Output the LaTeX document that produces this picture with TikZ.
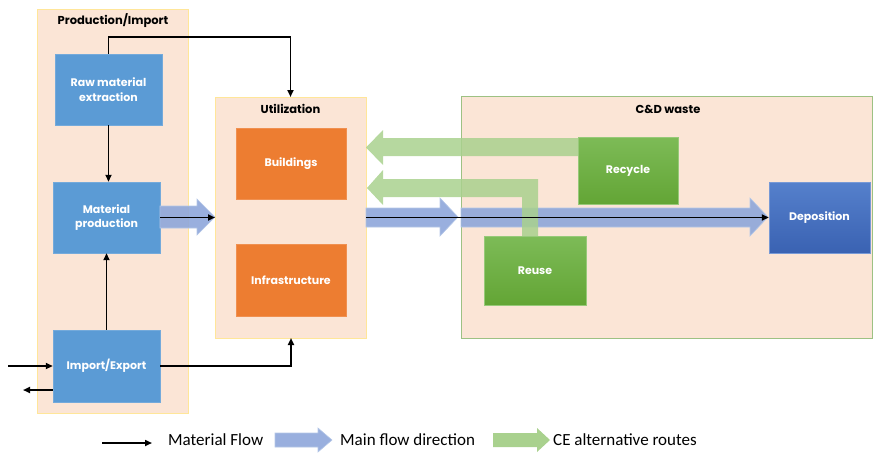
\documentclass[tikz,border=0pt]{standalone}
\usepackage{fontspec}
\setmainfont{Carlito}
\newfontfamily\gothic{Poppins}
\usetikzlibrary{arrows.meta,calc}
\definecolor{panelfill}{HTML}{FBE5D6}
\definecolor{panelgold}{HTML}{FFE699}
\definecolor{panelgreen}{HTML}{9DC183}
\definecolor{boxblue}{HTML}{5B9BD5}
\definecolor{boxorange}{HTML}{ED7D31}
\definecolor{greentop}{HTML}{7DBB57}
\definecolor{greenbot}{HTML}{63A535}
\definecolor{deptop}{HTML}{5580CC}
\definecolor{depbot}{HTML}{3A62B2}
\definecolor{fatblue}{HTML}{8EA6DA}
\definecolor{fatblueedge}{HTML}{B4C7E7}
\definecolor{fatgreen}{HTML}{A9D18E}
\begin{document}
\begin{tikzpicture}[x=1pt,y=-1pt,
  panel/.style={fill=panelfill,draw=panelgold,line width=0.8pt},
  cdpanel/.style={fill=panelfill,draw=panelgreen,line width=1pt},
  ptitle/.style={font=\gothic\bfseries\fontsize{11.5}{13}\selectfont,text=black,inner sep=0pt},
  boxbase/.style={rectangle,inner sep=0pt,align=center,text=white,
     font=\gothic\bfseries\fontsize{11}{14.5}\selectfont},
  bluebox/.style={boxbase,fill=boxblue,draw=boxblue!85!white},
  orangebox/.style={boxbase,fill=boxorange,draw=boxorange!85!white},
  greenbox/.style={boxbase,top color=greentop,bottom color=greenbot,draw=greentop!80!white},
  depbox/.style={boxbase,top color=deptop,bottom color=depbot,draw=deptop!80!white},
  flow/.style={line width=1.9pt,-{Triangle[length=7pt,width=6pt]}},
  fatb/.style={fill=fatblue,draw=fatblueedge,line width=0.6pt,fill opacity=0.9},
  fatg/.style={fill=fatgreen,draw=none,fill opacity=0.85},
  legend/.style={font=\fontsize{17}{19}\selectfont,anchor=west,inner sep=0pt}
]
\useasboundingbox (0,0) rectangle (873,453);

% panels
\path[panel] (37,9) rectangle (188,413);
\path[panel] (215,97) rectangle (366,338);
\path[cdpanel] (461,96) rectangle (872,338);

\node[ptitle] (prodtitle) at (113,21) {Production/Import};
\node[ptitle] (utiltitle) at (290.5,109) {Utilization};
\node[ptitle] (cdtitle) at (668,109) {C\&D waste};

% boxes
\node[bluebox,minimum width=107,minimum height=71] (raw) at (108.5,89.5) {Raw material\\extraction};
\node[bluebox,minimum width=107,minimum height=71] (mat) at (106.5,217.5) {Material\\production};
\node[bluebox,minimum width=107,minimum height=72] (imp) at (106.5,366) {Import/Export};
\node[orangebox,minimum width=110,minimum height=71] (bld) at (291,163.5) {Buildings};
\node[orangebox,minimum width=110,minimum height=72] (inf) at (291,280) {Infrastructure};
\node[greenbox,minimum width=100,minimum height=67] (rec) at (628,170.5) {Recycle};
\node[greenbox,minimum width=102,minimum height=69] (reu) at (535,270.5) {Reuse};
\node[depbox,minimum width=101,minimum height=71] (dep) at (819.5,217.5) {Deposition};

% main flow fat arrows
\path[fatb] (160,206) -- (197,206) -- (197,199) -- (215,217) -- (197,235) -- (197,228) -- (160,228) -- cycle;
\path[fatb] (366,208) -- (440,208) -- (440,198) -- (458,217) -- (440,236) -- (440,227) -- (366,227) -- cycle;
\path[fatb] (461,208) -- (750,208) -- (750,198) -- (768,217) -- (750,236) -- (750,227) -- (461,227) -- cycle;

% CE alternative routes
\path[fatg] (rec.west |- 0,138) -- (383,138) -- (383,130) -- (366,147.5) -- (383,165) -- (383,156) -- (rec.west |- 0,156) -- cycle;
\path[fatg] (522,236) -- (522,197) -- (383,197) -- (383,205) -- (367,188) -- (383,170) -- (383,179) -- (538,179) -- (538,236) -- cycle;

% material flows
\draw[flow] (raw.north) -- ++(0,-17) -| (utiltitle.north |- 0,97);
\draw[flow] (raw.south) -- (raw.south |- mat.north);
\draw[flow] (imp.north) -- (mat.south);
\draw[flow] (imp.east) -| (291,338);
\draw[flow] (mat.east) -- (215,217.5);
\draw[flow] (366,217.5) -- (dep.west);
\coordinate (extin) at (8,366);
\coordinate (extout) at (23,390);
\draw[flow] (extin) -- (imp.west);
\draw[flow] (imp.west |- extout) -- (extout);

% legend
\coordinate (l1a) at (102,443);
\coordinate (l1b) at (152,443);
\draw[flow,line width=1.6pt] (l1a) -- (l1b);
\node[legend] (lt1) at (168,440) {Material Flow};
\path[fatb] (275,433) -- (318,433) -- (318,428) -- (332,440) -- (318,452) -- (318,447) -- (275,447) -- cycle;
\node[legend] (lt2) at (340,440) {Main flow direction};
\path[fatg,fill opacity=1] (493,433) -- (537,433) -- (537,428) -- (550,440) -- (537,452) -- (537,447) -- (493,447) -- cycle;
\node[legend] (lt3) at (553,440) {CE alternative routes};
\end{tikzpicture}
\end{document}
